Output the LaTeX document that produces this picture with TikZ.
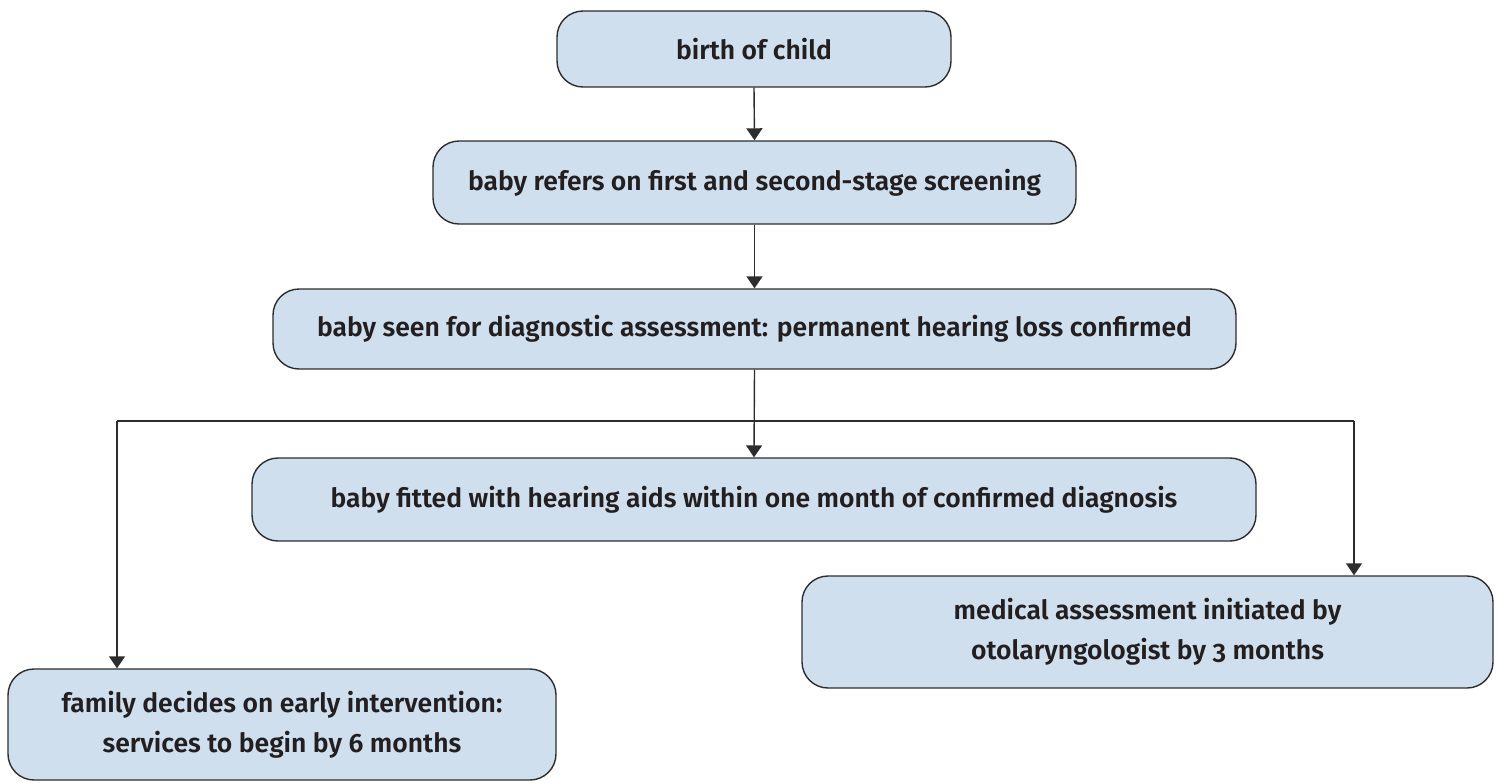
\documentclass[tikz,border=0pt]{standalone}
\usepackage{fontspec}
\setmainfont{Fira Sans}[UprightFont={* SemiBold}, Numbers=OldStyle]
\usetikzlibrary{arrows.meta,calc}
\definecolor{boxfill}{RGB}{207,223,238}
\definecolor{boxline}{RGB}{45,45,45}
\definecolor{txt}{RGB}{35,31,32}
\tikzset{
  stepbox/.style={draw=boxline, line width=1.4pt, fill=boxfill, rounded corners=26pt,
    text=txt, font=\fontsize{26.5}{40}\selectfont, align=center, inner sep=0pt},
  conn/.style={draw=boxline, line width=1.4pt},
  arr/.style={conn, -{Triangle[width=16pt,length=12pt]}}
}
\begin{document}
\begin{tikzpicture}[x=1pt,y=-1pt]
\useasboundingbox (0,0) rectangle (1499,782);
\node[stepbox, minimum width=394pt, minimum height=76pt] (b1) at (754,49) {birth of child};
\node[stepbox, minimum width=643pt, minimum height=83pt] (b2) at (754.5,182.5) {baby refers on first and second-stage screening};
\node[stepbox, minimum width=963pt, minimum height=80pt] (b3) at (754.5,329) {baby seen for diagnostic assessment: permanent hearing loss confirmed};
\node[stepbox, minimum width=1004pt, minimum height=83pt] (b4) at (754,499.5) {baby fitted with hearing aids within one month of confirmed diagnosis};
\node[stepbox, minimum width=691pt, minimum height=112pt] (b5) at (1147.5,632) {medical assessment initiated by\\otolaryngologist by 3 months};
\node[stepbox, minimum width=548pt, minimum height=111pt] (b6) at (282,724.5) {family decides on early intervention:\\services to begin by 6 months};
\coordinate (jL) at (117,421);
\coordinate (jR) at (1354,421);
\draw[arr] (b1.south) -- (b2.north);
\draw[arr] (b2.south) -- (b3.north);
\draw[arr] (b3.south) -- (b4.north);
\draw[conn] (jL) -- (jR);
\draw[arr] (jL) -- (jL |- b6.north);
\draw[arr] (jR) -- (jR |- b5.north);
\end{tikzpicture}
\end{document}
